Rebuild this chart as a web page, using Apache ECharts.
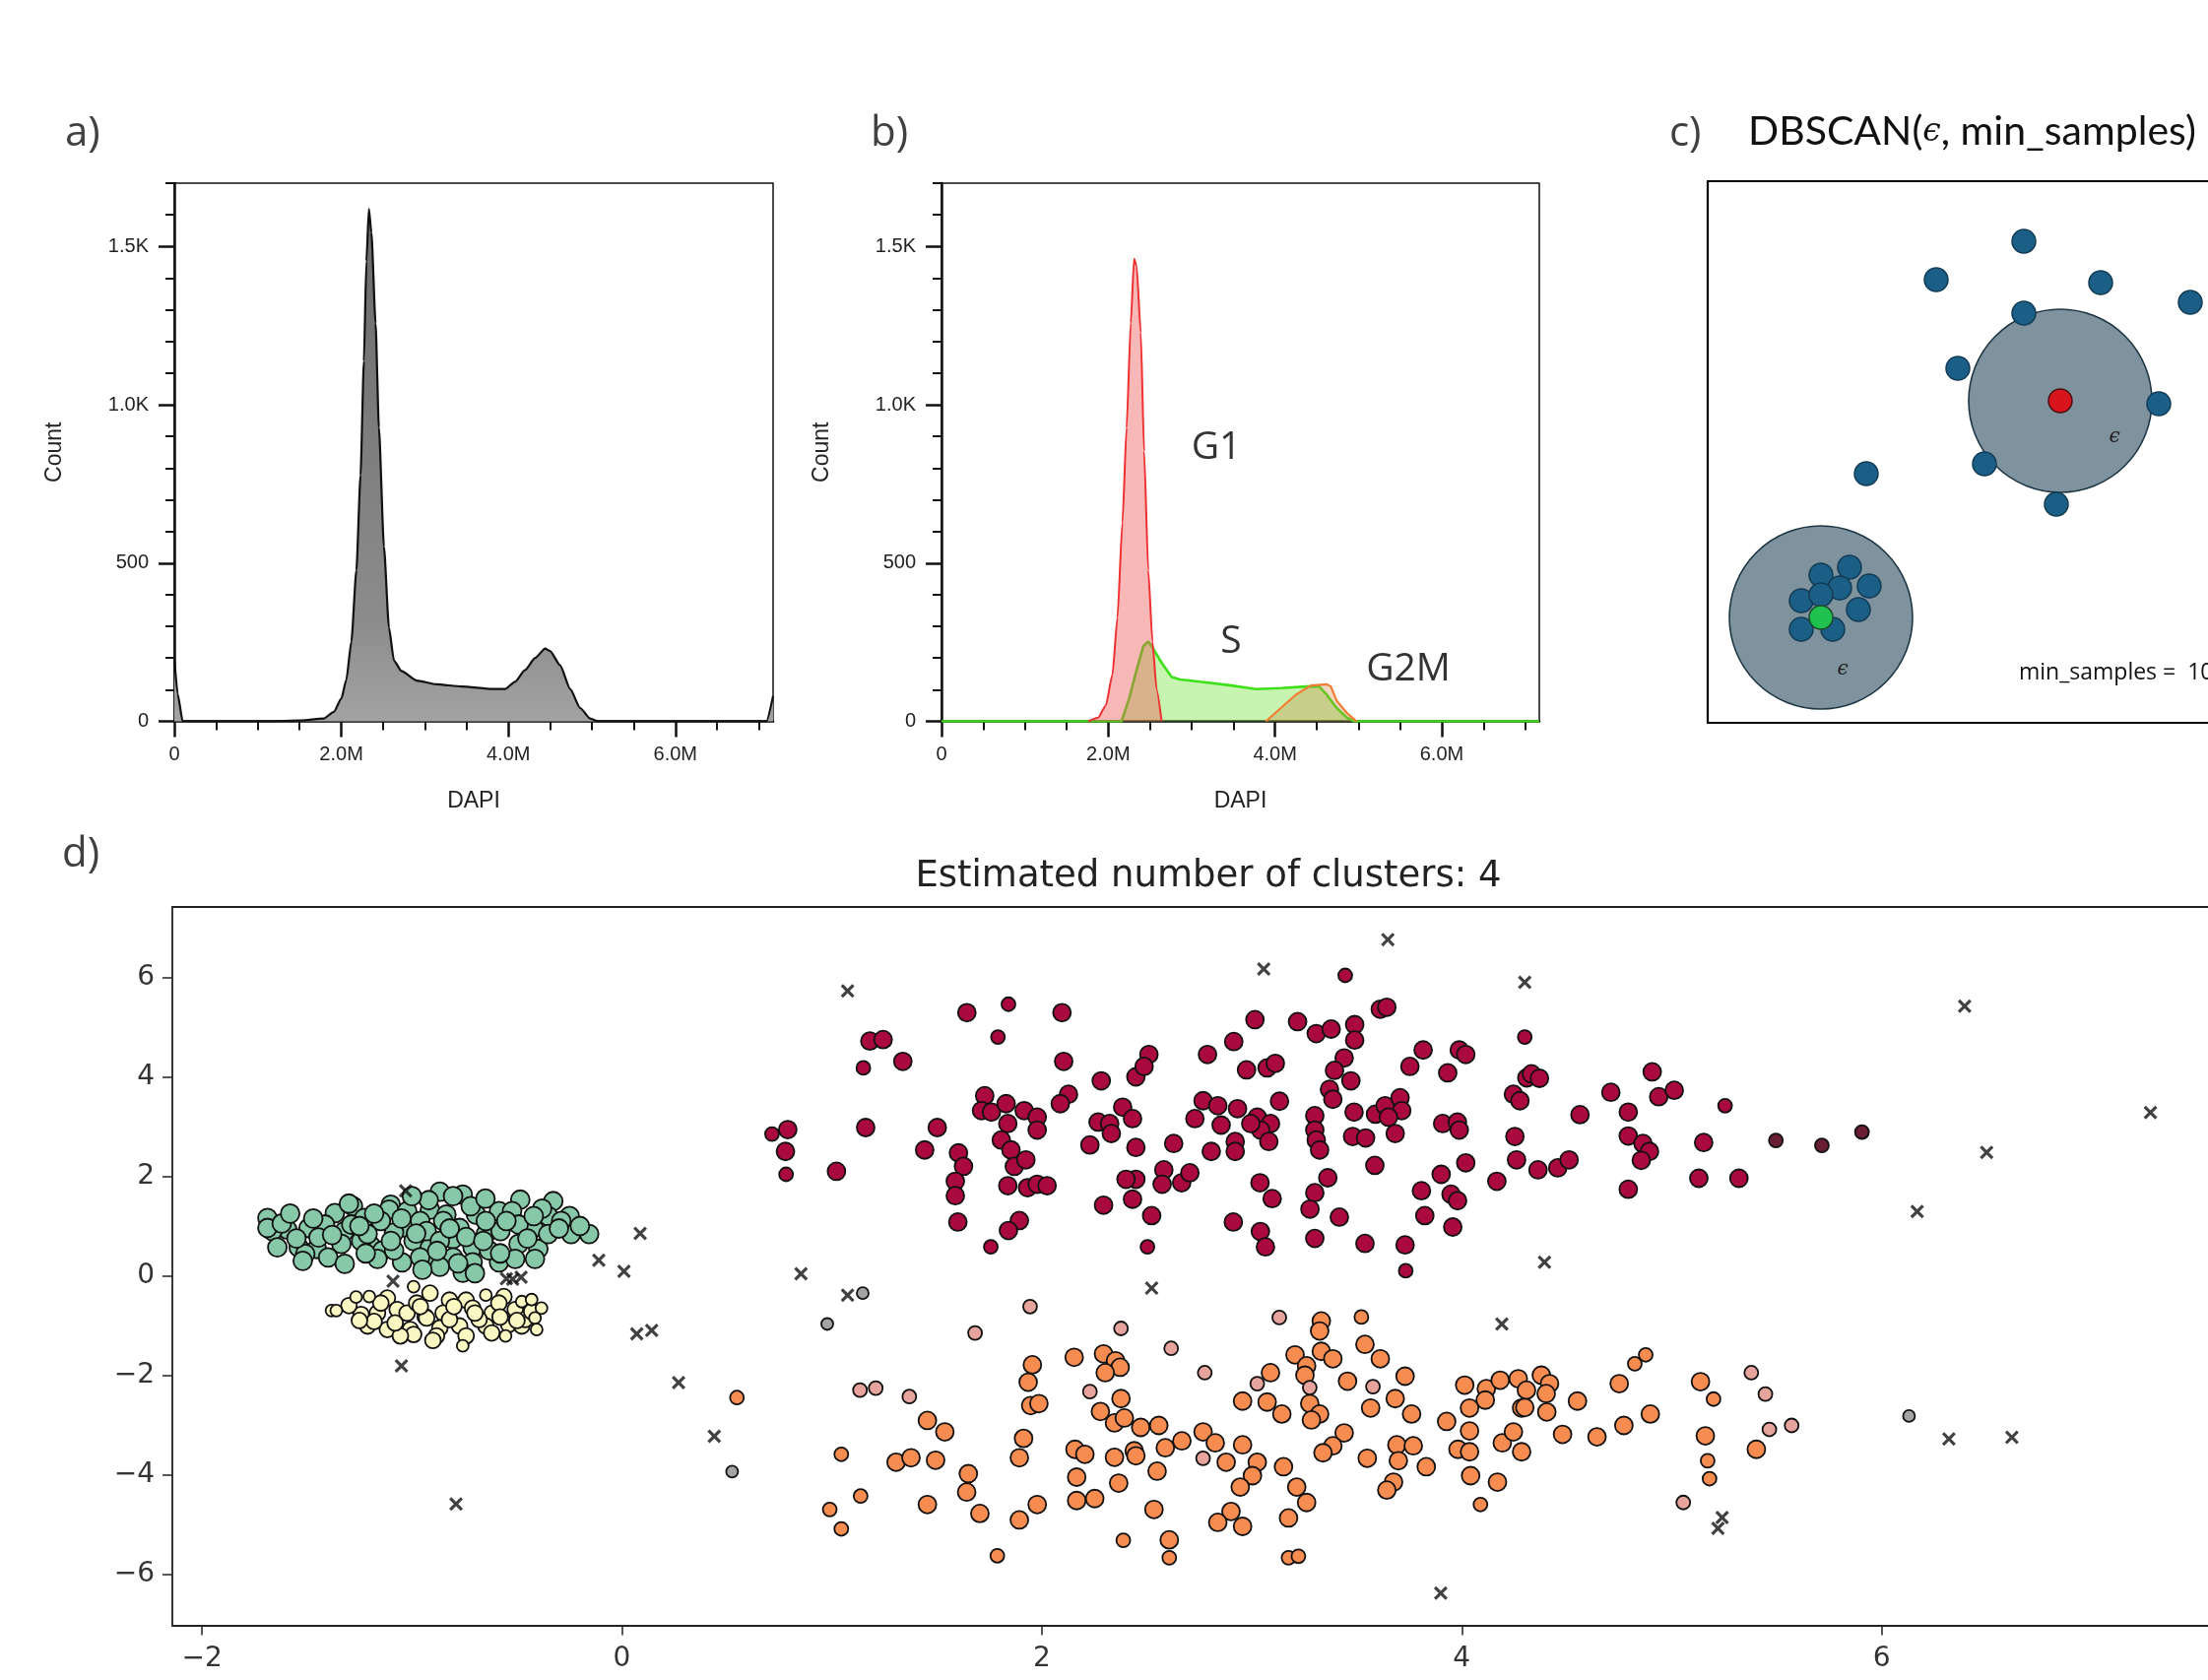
<!DOCTYPE html>
<html><head><meta charset="utf-8">
<script src="https://cdn.jsdelivr.net/npm/echarts@6/dist/echarts.min.js"></script>
<style>html,body{margin:0;padding:0;background:#fff}#main{width:2242px;height:1706px}</style>
</head><body><div id="main"></div>
<script>
// ---------- Panel a: DAPI histogram (x in millions) ----------
const aDapi  = [0, 0.04, 0.1, 0.5, 1.15, 1.51, 1.79, 1.91, 2.0, 2.06, 2.12, 2.18, 2.23, 2.27, 2.30, 2.33, 2.36, 2.41, 2.45, 2.51, 2.57, 2.63, 2.72, 2.90, 3.14, 3.44, 3.81, 3.96, 4.08, 4.20, 4.32, 4.44, 4.50, 4.62, 4.74, 4.86, 4.98, 5.07, 6.0, 7.09, 7.17];
const aCount = [200, 87, 0, 0, 0, 3, 9, 30, 72, 132, 252, 477, 778, 1138, 1453, 1619, 1544, 1258, 928, 553, 297, 192, 159, 129, 117, 110, 102, 102, 125, 162, 200, 230, 222, 177, 102, 42, 9, 0, 0, 0, 80];

// ---------- Panel b: gated phases ----------
const g1Dapi  = [1.76, 1.88, 1.97, 2.05, 2.11, 2.17, 2.22, 2.27, 2.31, 2.34, 2.39, 2.43, 2.48, 2.53, 2.58, 2.64];
const g1Count = [0, 12, 50, 147, 327, 628, 928, 1258, 1461, 1438, 1228, 853, 477, 252, 102, 0];
const sDapi   = [0, 2.16, 2.25, 2.34, 2.42, 2.48, 2.54, 2.64, 2.76, 2.86, 3.10, 3.46, 3.77, 4.07, 4.37, 4.53, 4.62, 4.74, 4.86, 4.95, 7.17];
const sCount  = [0, 0, 72, 162, 237, 252, 230, 185, 140, 132, 125, 114, 102, 105, 110, 110, 84, 42, 12, 0, 0];
const g2mDapi  = [3.89, 4.07, 4.25, 4.43, 4.62, 4.67, 4.74, 4.86, 4.98];
const g2mCount = [0, 42, 84, 113, 117, 110, 65, 27, 0];

const histTicksX = [0, 2, 4, 6];
const histTickLabelsX = ['0', '2.0M', '4.0M', '6.0M'];
const histTicksY = [0, 500, 1000, 1500];
const histTickLabelsY = ['0', '500', '1.0K', '1.5K'];
const histMinorX = [0.5, 1, 1.5, 2.5, 3, 3.5, 4.5, 5, 5.5, 6.5, 7];
const histMinorY = [100, 200, 300, 400, 600, 700, 800, 900, 1100, 1200, 1300, 1400, 1600, 1700];

// ---------- Panel c: DBSCAN sketch (pixel-like units) ----------
const cRegions   = [[358, 327], [115, 107]];
const cNeighbors = [[321, 489], [232, 450], [399, 447], [490, 427], [321, 416], [254, 360], [458, 324], [281, 263], [161, 253], [354, 222],
                    [115, 150], [144, 158], [134, 137], [164, 139], [95, 124], [115, 130], [153, 115], [95, 95], [127, 95]];
const cNoisePoint = [[358, 327]];
const cCorePoint  = [[115, 107]];

// ---------- Panel d: DBSCAN result ----------
const redCore = [[1.643,5.29],[2.096,5.29],[1.181,4.72],[1.244,4.75],[1.338,4.31],[2.104,4.31],[2.127,3.65],[2.088,3.46],[1.728,3.62],[1.713,3.32],[1.760,3.29],[1.830,3.46],[1.838,3.06],[1.916,3.32],[1.978,3.19],[1.978,2.93],[1.502,2.98],[1.161,2.98],[0.790,2.94],[0.779,2.50],[1.022,2.10],[1.442,2.53],[1.603,2.47],[1.627,2.20],[1.588,1.90],[1.588,1.61],[1.807,2.73],[1.853,2.53],[1.869,2.20],[1.924,2.33],[1.838,1.81],[1.932,1.77],[1.978,1.84],[2.025,1.81],[1.600,1.08],[1.893,1.11],[1.841,0.91],
 [3.612,5.36],[3.643,5.40],[3.015,5.15],[3.218,5.11],[3.307,4.87],[3.378,4.96],[3.490,5.05],[3.490,4.74],[2.914,4.71],[2.789,4.45],[2.510,4.45],[2.448,4.00],[2.487,4.21],[2.283,3.92],[2.975,4.14],[3.073,4.18],[3.112,4.27],[3.440,4.38],[3.394,4.13],[3.472,3.92],[3.370,3.75],[3.386,3.55],[3.132,3.51],[3.816,4.54],[3.753,4.21],[3.988,4.54],[4.019,4.45],[3.933,4.08],[4.246,3.65],[4.31,3.98],[2.385,3.39],[2.432,3.16],[2.268,3.09],[2.323,3.06],[2.331,2.86],[2.229,2.63],[2.448,2.58],[2.628,2.66],[2.768,3.52],[2.838,3.42],[2.729,3.16],[2.854,3.03],[2.932,3.36],[3.026,3.19],[3.089,3.06],[3.042,2.93],[2.995,3.06],[3.081,2.70],[2.921,2.70],[2.921,2.50],[2.807,2.50],[3.300,3.22],[3.300,2.93],[3.307,2.73],[3.323,2.53],[3.487,3.29],[3.480,2.80],[3.542,2.77],[3.589,3.25],[3.635,3.42],[3.706,3.58],[3.714,3.32],[3.651,3.19],[3.683,2.86],[3.909,3.06],[3.979,3.09],[3.988,2.93],[4.253,2.80],[4.261,2.33],[4.019,2.27],[4.167,1.90],[3.902,2.04],[3.808,1.71],[3.824,1.21],[3.949,1.64],[3.980,1.51],[3.957,0.98],[3.586,2.22],[3.362,1.97],[3.300,1.67],[3.277,1.34],[3.417,1.18],[3.300,0.75],[3.539,0.65],[3.730,0.62],[3.039,1.87],[3.097,1.55],[3.041,0.89],[3.065,0.58],[2.912,1.08],[2.448,1.94],[2.401,1.94],[2.432,1.54],[2.294,1.42],[2.581,2.13],[2.573,1.84],[2.666,1.87],[2.705,2.07],[2.523,1.21],
 [4.332,4.06],[4.370,3.97],[4.277,3.52],[4.363,2.13],[4.457,2.17],[4.511,2.33],[4.563,3.24],[4.710,3.69],[4.793,3.29],[4.907,4.10],[4.938,3.60],[5.012,3.73],[4.793,2.81],[4.863,2.66],[4.894,2.50],[4.855,2.32],[4.793,1.74],[5.152,2.68],[5.129,1.96],[5.320,1.96]];
const redEdge = [[1.841,5.46],[1.791,4.80],[1.150,4.18],[0.715,2.85],[0.782,2.04],[1.757,0.58],[3.445,6.04],[3.733,0.10],[4.300,4.80],[2.503,0.58],[5.254,3.42]];
const redFar  = [[5.496,2.72],[5.715,2.62],[5.906,2.89]];

const orangeCore = [[1.455,-2.91],[1.538,-3.14],[1.306,-3.75],[1.377,-3.66],[1.494,-3.71],[1.650,-3.98],[1.642,-4.35],[1.455,-4.60],[1.705,-4.78],[1.893,-4.91],[1.978,-4.60],[1.955,-1.79],[1.935,-2.14],[1.947,-2.61],[1.986,-2.57],[1.913,-3.27],[1.893,-3.66],[2.154,-1.64],[2.158,-3.49],[2.166,-4.05],[2.166,-4.52],
 [3.331,-0.91],[3.323,-1.11],[3.539,-1.38],[2.294,-1.57],[2.351,-1.71],[2.373,-1.84],[2.302,-1.95],[2.377,-2.47],[2.279,-2.73],[2.346,-2.96],[2.393,-2.86],[2.471,-3.05],[2.557,-3.01],[2.205,-3.59],[2.346,-3.65],[2.440,-3.52],[2.448,-3.62],[2.588,-3.46],[2.667,-3.32],[2.768,-3.14],[2.826,-3.36],[2.878,-3.75],[2.956,-3.40],[3.026,-3.75],[3.003,-4.02],[2.945,-4.25],[2.252,-4.48],[2.366,-4.17],[2.549,-3.93],[2.534,-4.70],[2.607,-5.31],[2.901,-4.74],[2.838,-4.96],[2.956,-5.04],[3.175,-4.87],[3.151,-3.84],[3.214,-4.25],[3.261,-4.56],[2.956,-2.52],[3.089,-1.95],[3.073,-2.54],[3.143,-2.78],[3.206,-1.59],[3.261,-1.81],[3.331,-1.52],[3.386,-1.67],[3.253,-2.00],[3.276,-2.57],[3.323,-2.78],[3.284,-2.90],[3.456,-2.12],[3.612,-1.67],[3.566,-2.66],[3.730,-2.02],[3.683,-2.47],[3.761,-2.78],[3.440,-3.16],[3.386,-3.42],[3.339,-3.56],[3.550,-3.67],[3.691,-3.40],[3.769,-3.42],[3.698,-3.72],[3.675,-4.15],[3.643,-4.31],[3.831,-3.84],[3.928,-2.93],[4.014,-2.20],[4.117,-2.27],[4.112,-2.50],[4.037,-2.66],[4.183,-2.10],[4.269,-2.07],[4.285,-2.66],[4.037,-3.12],[3.982,-3.49],[4.037,-3.54],[4.193,-3.36],[4.246,-3.14],[4.285,-3.54],[4.042,-4.02],[4.170,-4.15],
 [4.379,-2.00],[4.418,-2.17],[4.308,-2.30],[4.402,-2.37],[4.300,-2.65],[4.405,-2.74],[4.551,-2.52],[4.480,-3.19],[4.644,-3.24],[4.772,-3.01],[4.750,-2.17],[4.898,-2.78],[5.137,-2.13],[5.160,-3.22],[5.403,-3.49]];
const orangeEdge = [[1.045,-3.59],[1.137,-4.43],[0.990,-4.70],[1.045,-5.09],[1.788,-5.63],[2.388,-5.32],[2.607,-5.67],[3.175,-5.67],[3.222,-5.64],[4.089,-4.60],[3.522,-0.83],[4.824,-1.77],[4.876,-1.59],[5.199,-2.48],[5.171,-3.72],[5.180,-4.08],[0.548,-2.45]];
const pinkEdge = [[1.944,-0.62],[1.682,-1.15],[1.134,-2.30],[1.209,-2.26],[1.369,-2.43],[2.377,-1.06],[2.616,-1.46],[2.776,-1.95],[3.131,-0.84],[2.229,-2.33],[3.026,-2.17],[3.276,-2.25],[3.577,-2.23],[2.768,-3.67],[5.379,-1.95],[5.465,-3.09],[5.571,-3.01],[5.055,-4.56],[5.446,-2.38]];
const grayEdge = [[1.147,-0.35],[0.978,-0.97],[0.525,-3.94],[6.13,-2.82]];

const tealCore = [[-0.867,1.69],[-0.758,1.63],[-0.804,1.60],[-0.484,1.53],[-0.327,1.50],[-1.101,1.43],[-1.281,1.40],[-1.688,1.16],[-1.227,1.16],[-1.109,1.33],[-1.023,1.30],[-0.914,1.33],[-0.836,1.23],[-0.695,1.23],[-0.585,1.30],[-0.523,1.30],[-0.351,1.20],[-0.249,1.20],[-1.367,1.26],[-1.594,0.93],[-1.492,0.96],[-1.414,1.03],[-1.320,0.90],[-1.023,0.96],[-0.851,1.10],[-0.773,0.96],[-0.648,0.84],[-0.578,0.90],[-0.421,0.96],[-0.156,0.84],[-0.242,0.84],[-1.664,0.90],[-1.085,0.87],[-1.641,0.57],[-1.539,0.57],[-1.453,0.54],[-1.336,0.64],[-1.195,0.60],[-1.140,0.51],[-0.992,0.70],[-0.914,0.57],[-0.804,0.74],[-0.711,0.57],[-0.492,0.64],[-0.398,0.54],[-1.242,0.70],[-1.399,0.37],[-1.320,0.24],[-1.047,0.27],[-0.898,0.31],[-0.804,0.37],[-0.585,0.27],[-0.414,0.34],[-1.164,0.34],[-0.711,0.27],[-1.508,0.44],[-0.758,0.06],[-0.867,0.18],
 [-0.961,1.10],[-0.648,1.10],[-1.148,1.10],[-1.289,1.03],[-0.930,0.90],[-0.492,1.03],[-0.289,1.10],[-0.742,0.78],[-0.633,0.51],[-1.085,0.51],[-0.961,0.37],[-1.445,0.77],[-1.211,0.84],[-1.688,0.96],[-0.351,0.84],[-0.867,0.70],[-0.508,0.34],
 [-1.62,1.05],[-1.55,0.75],[-1.47,1.15],[-1.38,0.82],[-1.25,1.00],[-1.18,1.25],[-1.05,1.15],[-0.98,0.85],[-0.88,0.50],[-0.82,0.95],[-0.72,1.40],[-0.66,0.70],[-0.55,1.10],[-0.45,0.75],[-0.38,1.35],[-0.30,0.95],[-0.20,1.00],[-0.58,0.45],[-0.95,0.12],[-1.22,0.45],[-1.52,0.30],[-1.10,0.70],[-0.78,0.25],[-0.65,1.55],[-0.92,1.52],[-1.00,1.60],[-1.30,1.45],[-0.42,1.20],[-1.58,1.25],[-0.70,0.05]];
const yellowCore = [[-0.914,-0.35],[-0.821,-0.49],[-0.742,-0.49],[-0.562,-0.42],[-1.117,-0.45],[-1.070,-0.68],[-0.937,-0.82],[-0.851,-0.75],[-0.711,-0.65],[-0.617,-0.75],[-0.508,-0.68],[-1.164,-0.75],[-1.242,-0.78],[-1.117,-1.08],[-1.008,-1.08],[-0.930,-0.85],[-0.867,-1.05],[-0.773,-1.01],[-0.648,-1.01],[-0.539,-0.98],[-0.477,-1.01],[-0.992,-1.18],[-0.883,-1.21],[-0.742,-1.21],[-1.055,-1.21],[-1.211,-1.01],[-1.023,-0.75],[-0.821,-0.88],[-0.680,-0.88],[-0.461,-0.88],[-1.148,-0.55],[-0.977,-0.55],[-0.586,-0.55],
 [-1.30,-0.60],[-1.18,-0.92],[-1.08,-0.95],[-0.96,-0.62],[-0.80,-0.62],[-0.70,-0.75],[-0.58,-0.83],[-0.50,-0.90],[-0.90,-1.30],[-0.62,-1.15],[-0.43,-0.72],[-1.25,-0.90]];
const yellowEdge = [[-1.266,-0.43],[-1.203,-0.42],[-0.992,-0.22],[-0.648,-0.39],[-0.477,-0.52],[-0.383,-0.65],[-0.414,-0.85],[-0.406,-1.08],[-0.554,-1.21],[-0.758,-1.41],[-1.383,-0.70],[-1.360,-0.70],[-0.430,-0.48]];
const noisePts = [[1.075,5.73],[0.087,0.85],[0.853,0.04],[1.075,-0.39],[0.071,-1.17],[0.142,-1.10],[3.057,6.17],[3.648,6.76],[4.300,5.90],[2.523,-0.25],[4.191,-0.97],[4.394,0.27],[6.169,1.29],[6.395,5.42],[7.28,3.28],[6.50,2.48],[6.32,-3.28],[6.62,-3.25],[5.24,-4.86],[5.22,-5.08],[3.90,-6.38],[-1.03,1.71],[-0.11,0.31],[0.01,0.09],[0.27,-2.15],[0.44,-3.23],[-1.05,-1.81],[-0.79,-4.59],[-1.09,-0.11],[-0.55,-0.06],[-0.52,-0.07],[-0.48,-0.03]];
const scatterTicks = [-6, -4, -2, 0, 2, 4, 6];
const scatterTicksX = [-2, 0, 2, 4, 6];

// ---------- build ----------
const zip = (xs, ys) => xs.map((x, i) => [x, ys[i]]);
const chart = echarts.init(document.getElementById('main'), null, {renderer: 'canvas'});
const HF = 'Liberation Sans';

function histX(grid) {
  return [{
    gridIndex: grid, type: 'value', min: 0, max: 7.17, position: 'bottom',
    axisLine: {show: true, onZero: false, lineStyle: {color: '#111', width: 2.5}},
    axisTick: {show: true, length: 16, customValues: histTicksX, lineStyle: {color: '#111', width: 2.5}},
    axisLabel: {customValues: histTicksX, margin: 24, fontSize: 20, color: '#222', fontFamily: HF,
      formatter: v => histTickLabelsX[histTicksX.indexOf(v)]},
    splitLine: {show: false},
    name: 'DAPI', nameLocation: 'middle', nameGap: 70,
    nameTextStyle: {fontSize: 23, color: '#222', fontFamily: HF}
  }, {
    gridIndex: grid, type: 'value', min: 0, max: 7.17, position: 'bottom',
    axisLine: {show: false}, axisLabel: {show: false}, splitLine: {show: false},
    axisTick: {show: true, length: 9, customValues: histMinorX, lineStyle: {color: '#111', width: 2}}
  }];
}
function histY(grid) {
  return [{
    gridIndex: grid, type: 'value', min: 0, max: 1700, position: 'left',
    axisLine: {show: true, onZero: false, lineStyle: {color: '#111', width: 2.5}},
    axisTick: {show: true, length: 16, customValues: histTicksY, lineStyle: {color: '#111', width: 2.5}},
    axisLabel: {customValues: histTicksY, margin: 26, fontSize: 20, color: '#222', fontFamily: HF,
      formatter: v => histTickLabelsY[histTicksY.indexOf(v)]},
    splitLine: {show: false},
    name: 'Count', nameLocation: 'middle', nameGap: 110,
    nameTextStyle: {fontSize: 23, color: '#222', fontFamily: HF}
  }, {
    gridIndex: grid, type: 'value', min: 0, max: 1700, position: 'left',
    axisLine: {show: false}, axisLabel: {show: false}, splitLine: {show: false},
    axisTick: {show: true, length: 9, customValues: histMinorY, lineStyle: {color: '#111', width: 2}}
  }];
}
function frameAxis(grid, pos, min, max, color, width) {
  return {gridIndex: grid, type: 'value', position: pos, min, max,
    axisLine: {show: true, onZero: false, lineStyle: {color, width}},
    axisTick: {show: false}, axisLabel: {show: false}, splitLine: {show: false}};
}

const xSym = 'path://M1.6,0 L5,3.4 L8.4,0 L10,1.6 L6.6,5 L10,8.4 L8.4,10 L5,6.6 L1.6,10 L0,8.4 L3.4,5 L0,1.6 Z';
function dScatter(name, data, size, color, z) {
  return {name, type: 'scatter', xAxisIndex: 5, yAxisIndex: 5, data, symbolSize: size, z: z || 2,
    itemStyle: {color, borderColor: '#111', borderWidth: 1.8, opacity: 1}};
}
const minus = v => String(v).replace('-', '\u2212');

// panel d: axis extent (x from -2.141 to page edge)
const dXmin = -2.141, dXmax = 7.554, dYmin = -7.032, dYmax = 7.416;

const option = {
  animation: false,
  backgroundColor: '#ffffff',
  grid: [
    {left: 177, top: 186, width: 608, height: 546.5, show: true, borderColor: '#111', borderWidth: 1.5, backgroundColor: 'rgba(0,0,0,0)'},
    {left: 956, top: 186, width: 607, height: 546.5, show: true, borderColor: '#111', borderWidth: 1.5, backgroundColor: 'rgba(0,0,0,0)'},
    {left: 1734, top: 184, width: 508, height: 550, show: false},
    {left: 175, top: 921, width: 2067, height: 729.6, show: false}
  ],
  xAxis: [
    ...histX(0), ...histX(1),
    frameAxis(2, 'bottom', 0, 508, '#000', 2.2),
    {gridIndex: 3, type: 'value', min: dXmin, max: dXmax, position: 'bottom',
      axisLine: {show: true, onZero: false, lineStyle: {color: '#222', width: 1.8}},
      axisTick: {show: true, length: 10, customValues: scatterTicksX, lineStyle: {color: '#222', width: 1.5}},
      axisLabel: {customValues: scatterTicksX, margin: 20, fontSize: 28, color: '#333', fontFamily: 'DejaVu Sans', formatter: minus},
      splitLine: {show: false}},
    frameAxis(3, 'top', dXmin, dXmax, '#222', 1.8),
    frameAxis(2, 'top', 0, 508, '#000', 2.2)
  ],
  yAxis: [
    ...histY(0), ...histY(1),
    frameAxis(2, 'left', 0, 550, '#000', 2.2),
    {gridIndex: 3, type: 'value', min: dYmin, max: dYmax, position: 'left',
      axisLine: {show: true, onZero: false, lineStyle: {color: '#222', width: 1.8}},
      axisTick: {show: true, length: 10, customValues: scatterTicks, lineStyle: {color: '#222', width: 1.5}},
      axisLabel: {customValues: scatterTicks, margin: 18, fontSize: 28, color: '#333', fontFamily: 'DejaVu Sans', formatter: minus},
      splitLine: {show: false}}
  ],
  series: [
    // a
    {type: 'line', xAxisIndex: 0, yAxisIndex: 0, data: zip(aDapi, aCount), symbol: 'none', smooth: 0.2, smoothMonotone: 'x',
      lineStyle: {color: '#111', width: 2.2},
      areaStyle: {color: new echarts.graphic.LinearGradient(0, 0, 0, 1, [{offset: 0, color: '#6a6a6a'}, {offset: 0.8, color: '#8c8c8c'}, {offset: 1, color: '#a2a2a2'}]), opacity: 1}},
    // b
    {name: 'S', type: 'line', xAxisIndex: 2, yAxisIndex: 2, data: zip(sDapi, sCount), symbol: 'none', z: 2,
      lineStyle: {color: '#3fe01a', width: 2.6}, areaStyle: {color: 'rgba(125,228,70,0.6)'}},
    {name: 'G2M', type: 'line', xAxisIndex: 2, yAxisIndex: 2, data: zip(g2mDapi, g2mCount), symbol: 'none', z: 3,
      lineStyle: {color: '#f07d32', width: 2.2}, areaStyle: {color: 'rgba(200,130,60,0.45)'}},
    {name: 'G1', type: 'line', xAxisIndex: 2, yAxisIndex: 2, data: zip(g1Dapi, g1Count), symbol: 'none', smooth: 0.2, smoothMonotone: 'x', z: 4,
      lineStyle: {color: '#ee3030', width: 2}, areaStyle: {color: 'rgba(240,85,85,0.6)'}},
    // c
    {type: 'scatter', xAxisIndex: 4, yAxisIndex: 4, data: cRegions, symbolSize: 186, z: 1,
      itemStyle: {color: '#7f939e', borderColor: '#1d3644', borderWidth: 1.6, opacity: 1}},
    {type: 'scatter', xAxisIndex: 4, yAxisIndex: 4, data: cNeighbors, symbolSize: 24, z: 2,
      itemStyle: {color: '#1b5e86', borderColor: '#123b55', borderWidth: 1.5, opacity: 1}},
    {type: 'scatter', xAxisIndex: 4, yAxisIndex: 4, data: cNoisePoint, symbolSize: 24, z: 3,
      itemStyle: {color: '#d8141c', borderColor: '#4a1010', borderWidth: 1.5, opacity: 1}},
    {type: 'scatter', xAxisIndex: 4, yAxisIndex: 4, data: cCorePoint, symbolSize: 24, z: 3,
      itemStyle: {color: '#1fc24f', borderColor: '#1a4a2a', borderWidth: 1.5, opacity: 1}},
    // d
    dScatter('teal', tealCore, 19, '#86c8a7', 2),
    dScatter('yellowCore', yellowCore, 16, '#fbf7c2', 2),
    dScatter('yellowEdge', yellowEdge, 12, '#fbf7c2', 2),
    dScatter('red', redCore, 18, '#aa0940', 2),
    dScatter('redEdge', redEdge, 14, '#aa0940', 2),
    dScatter('redFar', redFar, 14, '#6a1e33', 2),
    dScatter('orange', orangeCore, 18, '#f68c50', 2),
    dScatter('orangeEdge', orangeEdge, 14, '#f68c50', 2),
    dScatter('pinkEdge', pinkEdge, 14, '#e6a49c', 2),
    dScatter('grayEdge', grayEdge, 12, '#a3a3a3', 2),
    {name: 'noise', type: 'scatter', xAxisIndex: 5, yAxisIndex: 5, data: noisePts, symbol: xSym, symbolSize: 14, z: 3,
      itemStyle: {color: '#111', borderWidth: 0}}
  ],
  graphic: [
    {type: 'text', x: 66, y: 136, style: {text: 'a)', font: '42px "Open Sans"', fill: '#404040', textVerticalAlign: 'middle'}},
    {type: 'text', x: 884, y: 136, style: {text: 'b)', font: '42px "Open Sans"', fill: '#404040', textVerticalAlign: 'middle'}},
    {type: 'text', x: 1695, y: 136, style: {text: 'c)', font: '42px "Open Sans"', fill: '#404040', textVerticalAlign: 'middle'}},
    {type: 'text', x: 63, y: 868, style: {text: 'd)', font: '42px "Open Sans"', fill: '#404040', textVerticalAlign: 'middle'}},
    {type: 'text', x: 1775, y: 134, style: {text: '{a|DBSCAN(}{e|ϵ}{a|, min_samples)}', textVerticalAlign: 'middle',
      rich: {a: {font: '41px Lato', fill: '#111'}, e: {font: 'italic 33px "DejaVu Serif"', fill: '#111'}}}},
    {type: 'text', x: 1235, y: 455, style: {text: 'G1', font: '39px "Open Sans"', fill: '#333', textAlign: 'center', textVerticalAlign: 'middle'}},
    {type: 'text', x: 1250, y: 652, style: {text: 'S', font: '39px "Open Sans"', fill: '#333', textAlign: 'center', textVerticalAlign: 'middle'}},
    {type: 'text', x: 1430, y: 680, style: {text: 'G2M', font: '39px "Open Sans"', fill: '#333', textAlign: 'center', textVerticalAlign: 'middle'}},
    {type: 'text', x: 2147, y: 444, z: 10, style: {text: 'ϵ', font: 'italic 20px "DejaVu Serif"', fill: '#222', textAlign: 'center', textVerticalAlign: 'middle'}},
    {type: 'text', x: 1871, y: 680, z: 10, style: {text: 'ϵ', font: 'italic 20px "DejaVu Serif"', fill: '#222', textAlign: 'center', textVerticalAlign: 'middle'}},
    {type: 'text', x: 2050, y: 683, style: {text: 'min_samples =  10', font: '23px "Open Sans"', fill: '#111', textVerticalAlign: 'middle'}},
    {type: 'text', x: 1227, y: 890, style: {text: 'Estimated number of clusters: 4', font: '37px "DejaVu Sans"', fill: '#222', textAlign: 'center', textVerticalAlign: 'middle'}}
  ]
};
chart.setOption(option);
</script>
</body></html>
